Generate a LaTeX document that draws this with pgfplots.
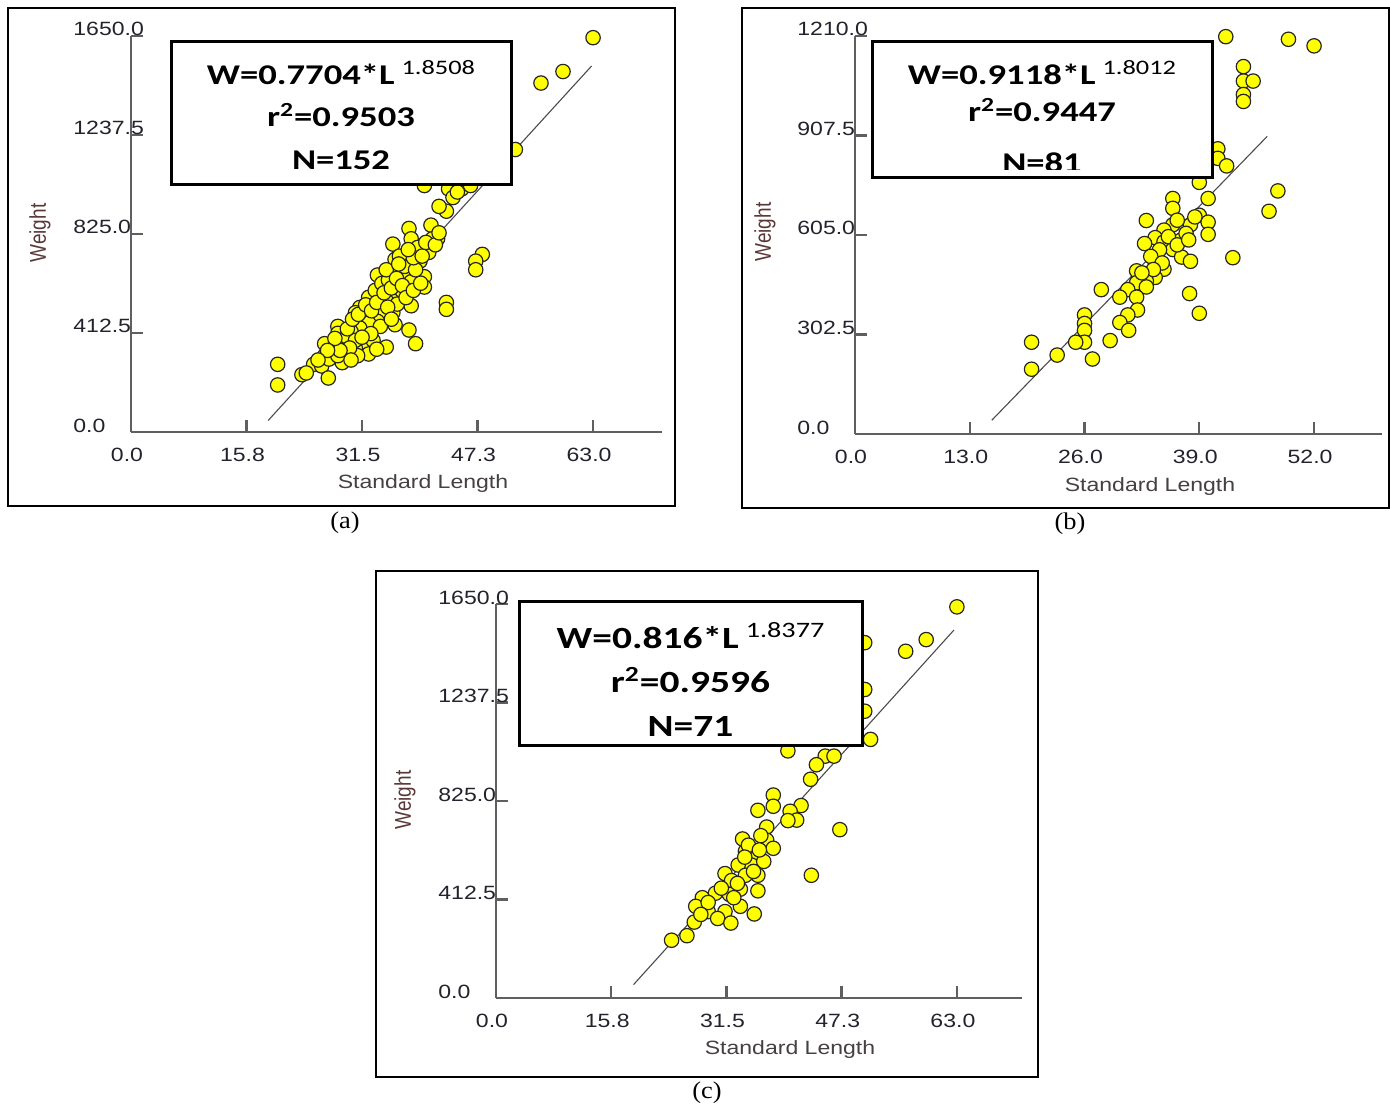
\documentclass[border=0pt]{standalone}
\usepackage{fontspec}
\usepackage{pgfplots}
\pgfplotsset{compat=1.18}
\newfontfamily\axfont[FakeStretch=1.2]{Liberation Sans}
\newfontfamily\axfontplain{Liberation Sans}
\newfontfamily\boxfont[FakeStretch=1.28]{Carlito}
\newfontfamily\capfont[FakeStretch=1.1]{Liberation Serif}
\definecolor{ticklab}{RGB}{35,35,45}
\definecolor{wlab}{RGB}{90,55,55}
\definecolor{sllab}{RGB}{70,64,64}
\definecolor{axgray}{RGB}{95,95,95}
\definecolor{ptfill}{RGB}{255,255,0}
\definecolor{fitline}{RGB}{75,75,75}

\pgfplotsset{
  panel/.style={
    scale only axis,
    axis x line*=bottom, axis y line*=left,
    axis line style={draw=axgray, line width=1.4pt},
    tick align=inside,
    major tick length=6pt,
    tick style={draw=axgray, line width=1.2pt},
    xmin=0, ymin=0,
    clip=false,
    yticklabel style={anchor=base west, inner sep=0pt, xshift=-29pt, font=\fontsize{9.6}{11}\axfont, text=ticklab},
    xticklabel style={anchor=north, inner sep=0pt, yshift=-8pt, xshift=-2pt, font=\fontsize{9.6}{11}\axfont, text=ticklab},
  },
  pts/.style={only marks, mark=*, mark size=3.6pt, mark options={fill=ptfill, draw=black!85, line width=0.6pt}},
  fit/.style={no marks, draw=fitline, line width=0.55pt},
}

\begin{document}
\begin{tikzpicture}
\path[use as bounding box] (0,0) rectangle (695pt,552.5pt);

% ---------------- Panel (a) ----------------
\begin{axis}[panel, at={(65.5pt,336.5pt)}, anchor=south west,
  width=265.5pt, height=198pt, xmax=72.4, ymax=1650,
  xtick={0,15.75,31.5,47.25,63}, xticklabels={0.0,15.8,31.5,47.3,63.0},
  ytick={0,412.5,825,1237.5,1650}, yticklabels={0.0,412.5,825.0,1237.5,1650.0}]
\addplot[pts] coordinates {
(63.0,1643) (58.9,1502) (55.9,1454) (52.4,1177) (40.0,1027) (43.3,1013) (45.1,1013) (46.3,1027)
(43.9,977) (43.0,920) (37.9,848) (40.9,862) (41.8,805) (40.6,748) (35.7,783) (38.2,805)
(39.1,769) (47.9,740) (47.0,712) (47.0,676) (36.0,719) (39.4,712) (40.0,647) (40.0,604)
(33.6,654) (35.4,662) (37.3,647) (38.2,626) (34.8,604) (33.9,576) (36.0,561) (43.0,540)
(43.0,511) (34.8,547) (38.2,526) (33.9,519) (31.2,519) (30.6,497) (33.0,490) (35.7,497)
(33.0,468) (31.8,440) (36.0,447) (37.9,425) (30.6,454) (28.2,440) (28.2,411) (31.8,411)
(31.8,375) (34.8,354) (38.8,368) (26.4,368) (28.2,375) (29.1,361) (30.6,347) (32.4,325)
(27.3,332) (26.4,318) (24.9,282) (26.0,275) (28.8,289) (23.3,239) (23.9,246) (26.9,225)
(20.0,282) (20.0,196) (32.4,561) (33.3,590) (34.2,619) (35.1,633) (36.6,619) (36.9,590)
(36.3,533) (34.2,504) (33.6,461) (32.4,454) (31.2,433) (30.0,418) (29.4,397) (30.6,382)
(33.0,382) (30.9,318) (27.6,347) (27.0,304) (28.2,318) (34.8,676) (37.3,690) (38.8,676)
(38.5,726) (36.6,733) (39.7,733) (41.1,805) (40.2,790)
(29.5,430) (30.2,470) (31.0,490) (32.0,530) (32.8,505) (33.5,540) (34.5,580) (35.5,600)
(36.2,640) (37.0,610) (35.0,520) (34.0,440) (32.7,410) (31.5,395) (29.8,350) (28.5,340)
(27.8,390) (26.8,340) (25.5,300) (30.0,300) (33.5,345) (35.5,470) (37.5,560) (38.5,590)
(39.5,620) (36.5,700) (37.8,760) (41.5,780) (42.0,830) (44.5,1000) (42.0,940)
};
\addplot[fit] coordinates {(18.7,48) (62.8,1525)};
\end{axis}

% ---------------- Panel (b) ----------------
\begin{axis}[panel, at={(427.5pt,335.5pt)}, anchor=south west,
  width=263.5pt, height=199pt, xmax=59.7, ymax=1210,
  xtick={0,13,26,39,52}, xticklabels={0.0,13.0,26.0,39.0,52.0},
  ytick={0,302.5,605,907.5,1210}, yticklabels={0.0,302.5,605.0,907.5,1210.0}]
\addplot[pts] coordinates {
(42.0,1208) (49.1,1200) (52.0,1180) (44.0,1117) (44.0,1073) (45.1,1073) (44.0,1032) (44.0,1011)
(41.1,867) (41.1,838) (42.1,815) (39.0,765) (47.9,739) (46.9,677) (36.0,716) (36.0,686)
(40.0,716) (39.0,665) (40.0,644) (40.0,607) (33.0,649) (36.0,636) (35.0,620) (38.0,636)
(34.0,597) (32.8,579) (35.0,584) (36.9,589) (36.0,561) (37.0,538) (38.0,525) (42.8,536)
(34.0,525) (35.0,501) (31.9,496) (33.0,481) (34.0,476) (33.0,465) (31.9,460) (33.0,447)
(27.9,439) (30.9,439) (30.0,416) (31.9,416) (37.9,427) (39.0,367) (32.0,377) (30.9,362)
(30.0,339) (31.0,315) (26.0,362) (26.0,336) (26.0,315) (26.0,279) (25.0,279) (28.9,284)
(26.9,228) (22.9,240) (20.0,279) (20.0,197) (34.5,560) (35.5,600) (37.5,610) (36.5,650)
(33.5,540) (34.8,520) (33.8,500) (32.5,490) (36.5,575) (38.5,660) (37.8,590)
};
\addplot[fit] coordinates {(15.5,42) (46.7,905)};
\end{axis}

% ---------------- Panel (c) ----------------
\begin{axis}[panel, at={(248pt,53.5pt)}, anchor=south west,
  width=263pt, height=197pt, xmax=71.9, ymax=1650,
  xtick={0,15.75,31.5,47.25,63}, xticklabels={0.0,15.8,31.5,47.3,63.0},
  ytick={0,412.5,825,1237.5,1650}, yticklabels={0.0,412.5,825.0,1237.5,1650.0}]
\addplot[pts] coordinates {
(63.0,1638) (58.8,1501) (56.0,1452) (50.4,1488) (50.4,1292) (50.4,1201) (51.2,1083) (39.9,1035)
(45.0,1013) (46.2,1013) (43.8,977) (43.0,916) (37.9,850) (37.9,803) (35.8,786) (41.7,806)
(40.2,782) (41.1,745) (39.9,743) (37.0,716) (47.0,705) (33.7,666) (37.0,661) (37.9,627)
(34.1,615) (35.8,601) (34.9,557) (33.1,557) (36.6,572) (31.3,521) (34.1,514) (35.8,514)
(43.1,514) (32.2,492) (33.4,456) (35.8,449) (31.9,434) (30.0,439) (28.2,420) (27.3,384)
(29.0,362) (31.3,362) (33.4,384) (35.3,352) (30.3,333) (32.1,314) (27.1,318) (26.1,261)
(24.0,242) (34.5,640) (36.2,680) (35.2,530) (33.0,480) (30.8,460) (29.0,400) (32.5,420)
(34.0,590) (36.0,620) (28.0,350)
};
\addplot[fit] coordinates {(18.8,56) (62.6,1541)};
\end{axis}

\begin{scope}[x=0.5pt,y=0.5pt]
% frames
\draw[line width=1pt] (8,1097) rectangle (675,599);
\draw[line width=1pt] (742,1097) rectangle (1389,597);
\draw[line width=1pt] (376,534) rectangle (1038,28);

% captions
\node[font=\fontsize{12}{14}\capfont] at (345,582) {(a)};
\node[font=\fontsize{12}{14}\capfont] at (1070,581) {(b)};
\node[font=\fontsize{12}{14}\capfont] at (707,12) {(c)};

% axis titles
\node[rotate=90, font=\fontsize{9.5}{11}\axfontplain, text=wlab] at (40,872) {\scalebox{1}[1.2]{Weight}};
\node[rotate=90, font=\fontsize{9.5}{11}\axfontplain, text=wlab] at (765,873) {\scalebox{1}[1.2]{Weight}};
\node[rotate=90, font=\fontsize{9.5}{11}\axfontplain, text=wlab] at (405,305) {\scalebox{1}[1.2]{Weight}};
\node[font=\fontsize{9.6}{11}\axfont, text=sllab] at (423,621) {Standard Length};
\node[font=\fontsize{9.6}{11}\axfont, text=sllab] at (1150,618) {Standard Length};
\node[font=\fontsize{9.6}{11}\axfont, text=sllab] at (790,55) {Standard Length};

% box (a)
\draw[line width=1.5pt, fill=white] (171,1063) rectangle (511,920);
\node[anchor=base, font=\fontsize{14.3}{16}\boxfont\bfseries] at (341,1020) {W=0.7704*L\hspace{3.5pt}\raisebox{5pt}{\fontsize{10.3}{12}\boxfont\mdseries 1.8508}};
\node[anchor=base, font=\fontsize{14.3}{16}\boxfont\bfseries] at (341,978) {r\textsuperscript{2}=0.9503};
\node[anchor=base, font=\fontsize{14.3}{16}\boxfont\bfseries] at (341,935) {N=152};

% box (b)
\draw[line width=1.5pt, fill=white] (872,1063) rectangle (1212,927);
\node[anchor=base, font=\fontsize{14.3}{16}\boxfont\bfseries] at (1042,1020) {W=0.9118*L\hspace{3.5pt}\raisebox{5pt}{\fontsize{10.3}{12}\boxfont\mdseries 1.8012}};
\node[anchor=base, font=\fontsize{14.3}{16}\boxfont\bfseries] at (1042,983) {r\textsuperscript{2}=0.9447};
\begin{scope}
\clip (874,935) rectangle (1210,1060);
\node[anchor=base, font=\fontsize{14.3}{16}\boxfont\bfseries] at (1042,932) {N=81};
\end{scope}

% box (c)
\draw[line width=1.5pt, fill=white] (519,504) rectangle (862,360);
\node[anchor=base, font=\fontsize{15.4}{17}\boxfont\bfseries] at (690.5,457) {W=0.816*L\hspace{3.5pt}\raisebox{5.5pt}{\fontsize{11}{12}\boxfont\mdseries 1.8377}};
\node[anchor=base, font=\fontsize{15.4}{17}\boxfont\bfseries] at (690.5,413) {r\textsuperscript{2}=0.9596};
\node[anchor=base, font=\fontsize{15.4}{17}\boxfont\bfseries] at (690.5,369) {N=71};
\end{scope}
\end{tikzpicture}
\end{document}
